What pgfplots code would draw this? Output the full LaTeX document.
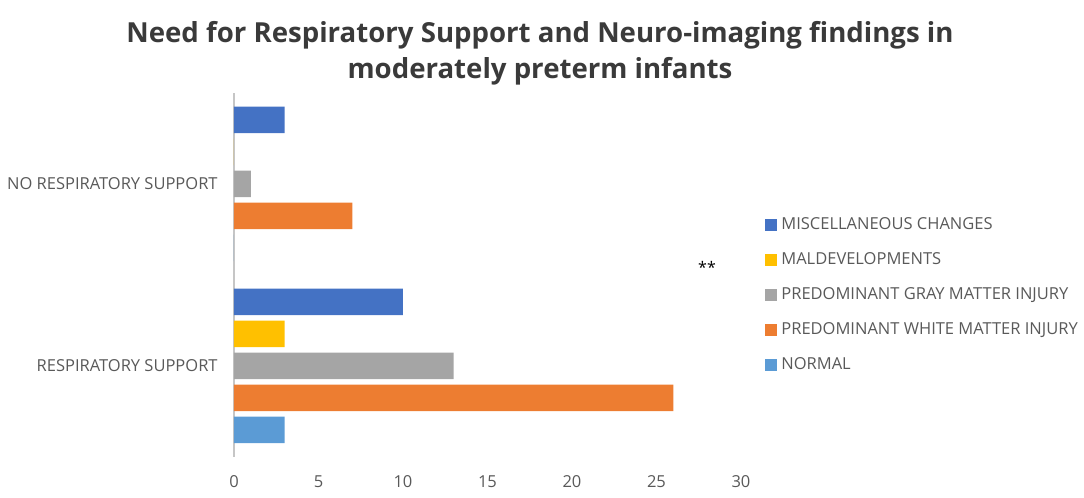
\documentclass[border=0pt]{standalone}
\usepackage{pgfplots}
\pgfplotsset{compat=1.18}
\usepackage{fontspec}
\setmainfont{Open Sans}
\definecolor{cNormal}{HTML}{5B9BD5}
\definecolor{cWhite}{HTML}{ED7D31}
\definecolor{cGray}{HTML}{A5A5A5}
\definecolor{cMal}{HTML}{FFC000}
\definecolor{cMisc}{HTML}{4472C4}
\definecolor{txt}{HTML}{595959}
\definecolor{ttl}{HTML}{3A3A3A}
\begin{document}
\begin{tikzpicture}
\path[use as bounding box] (0,0) rectangle (542pt,249pt);
\node[align=center, text=ttl, font=\fontsize{13.8}{18}\selectfont\bfseries] at (270pt,222.5pt)
  {Need for Respiratory Support and Neuro-imaging findings in\\moderately preterm infants};
\begin{axis}[
  at={(117pt,20.5pt)}, anchor=south west,
  scale only axis, width=253.5pt, height=182pt,
  xbar, bar width=13.25pt,
  xmin=0, xmax=30, ymin=-0.5, ymax=1.5,
  xtick={0,5,...,30}, ytick={0,1},
  yticklabels={RESPIRATORY SUPPORT, NO RESPIRATORY SUPPORT},
  /pgf/number format/assume math mode=true,
  major tick length=0pt,
  axis y line*=left, axis x line*=bottom,
  x axis line style={draw=none},
  y axis line style={draw=gray!45, line width=0.6pt, -},
  tick label style={font=\fontsize{8.25}{10}\selectfont, text=txt},
  x tick label style={anchor=center, yshift=-12.5pt},
  y tick label style={anchor=east, inner sep=0pt, xshift=-8pt},
  legend style={draw=none, fill=none, at={(1.0355,0.444)}, anchor=west,
    font=\fontsize{8.25}{10}\selectfont, text=txt, row sep=10pt,
    nodes={inner sep=0pt, text height=6pt, text depth=1.5pt},
    /tikz/every odd column/.style={column sep=2pt}},
  legend cell align=left,
  reverse legend,
  legend image code/.code={\fill[#1] (0pt,-3pt) rectangle (6pt,3pt);},
  clip=false,
]
\addplot[draw=none, fill=cNormal, bar shift=-32pt] coordinates {(3,0) (0,1)};
\addlegendentry{NORMAL}
\addplot[draw=none, fill=cWhite, bar shift=-16pt] coordinates {(26,0) (7,1)};
\addlegendentry{PREDOMINANT WHITE MATTER INJURY}
\addplot[draw=none, fill=cGray, bar shift=0pt] coordinates {(13,0) (1,1)};
\addlegendentry{PREDOMINANT GRAY MATTER INJURY}
\addplot[draw=none, fill=cMal, bar shift=16pt] coordinates {(3,0) (0,1)};
\addlegendentry{MALDEVELOPMENTS}
\addplot[draw=none, fill=cMisc, bar shift=32pt] coordinates {(10,0) (3,1)};
\addlegendentry{MISCELLANEOUS CHANGES}
\end{axis}
\node[font=\fontsize{8}{9}\selectfont, text=black] at (353.5pt,115.5pt) {**};
\end{tikzpicture}
\end{document}
